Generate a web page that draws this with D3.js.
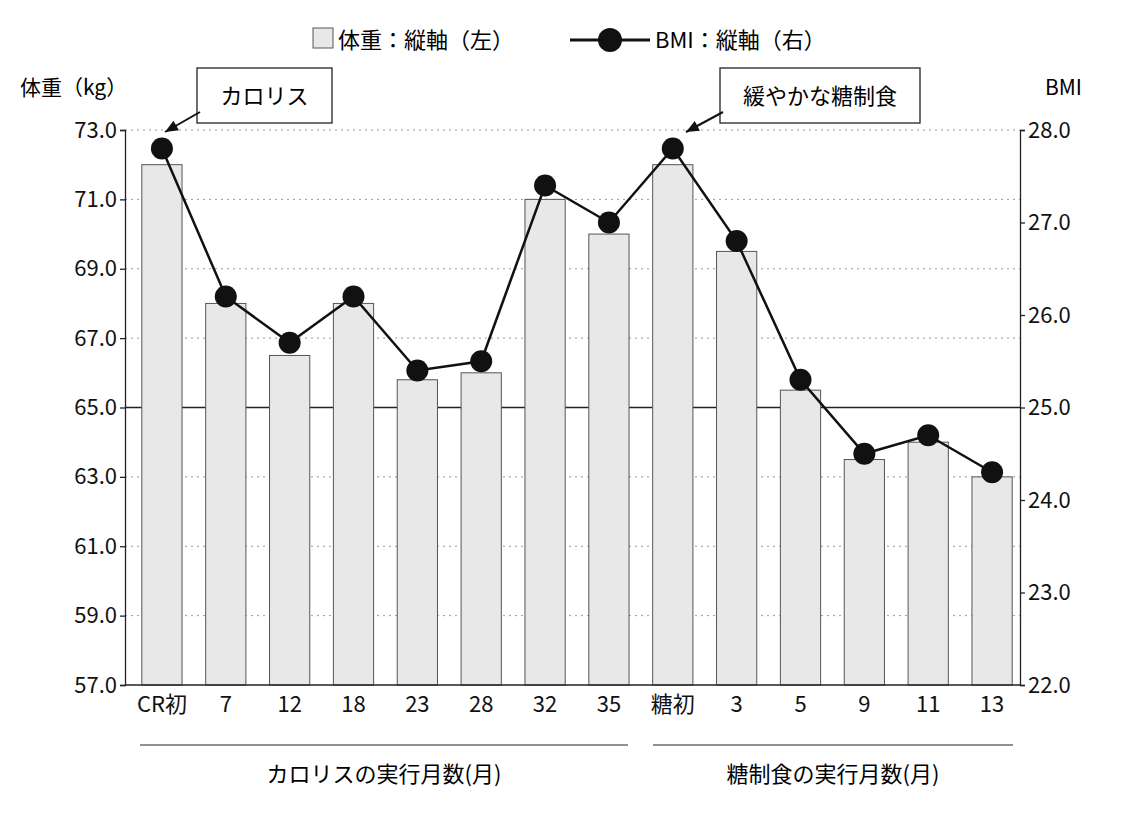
<!DOCTYPE html><html><head><meta charset="utf-8">
<script src="https://cdn.jsdelivr.net/npm/d3@7"></script>
<style>body{margin:0;background:#fff}text{font-family:"Noto Sans CJK JP","Noto Sans",sans-serif}</style></head><body>
<svg id="c" width="1125" height="815"></svg>
<script>
const categories=["CR初","7","12","18","23","28","32","35","糖初","3","5","9","11","13"];
const weight=[72.0,68.0,66.5,68.0,65.8,66.0,71.0,70.0,72.0,69.5,65.5,63.5,64.0,63.0];
const bmi=[27.8,26.2,25.7,26.2,25.4,25.5,27.4,27.0,27.8,26.8,25.3,24.5,24.7,24.3];
const leftTicks=[57,59,61,63,65,67,69,71,73];
const rightTicks=[22,23,24,25,26,27,28];
const svg=d3.select("#c");
const L=125,R=1020,T=130,B=685;
const x=d3.scaleBand().domain(categories).range([130,1024]).paddingInner(0.37).paddingOuter(0.185);
const y=d3.scaleLinear().domain([57,73]).range([B,T]);
const y2=d3.scaleLinear().domain([22,28]).range([B,T]);
leftTicks.forEach(t=>{if(t===57)return;svg.append("line").attr("x1",L).attr("x2",R).attr("y1",y(t)).attr("y2",y(t))
 .attr("stroke",t===65?"#222":"#999").attr("stroke-width",t===65?1.5:1).attr("stroke-dasharray",t===65?null:"2,4");});
svg.selectAll("rect.b").data(weight).enter().append("rect").attr("x",(d,i)=>x(categories[i])).attr("width",x.bandwidth())
 .attr("y",d=>y(d)).attr("height",d=>B-y(d)).attr("fill","#e8e8e8").attr("stroke","#555").attr("stroke-width",1);
const ax=svg.append("g").attr("transform",`translate(${L},0)`).call(d3.axisLeft(y).tickValues(leftTicks).tickFormat(d3.format(".1f")).tickSize(5));
const ax2=svg.append("g").attr("transform",`translate(${R},0)`).call(d3.axisRight(y2).tickValues(rightTicks).tickFormat(d3.format(".1f")).tickSize(5));
const ax3=svg.append("g").attr("transform",`translate(0,${B})`).call(d3.axisBottom(x).tickSize(0));
[ax,ax2,ax3].forEach(a=>{a.selectAll("path,line").attr("stroke","#222").attr("stroke-width",1.3);a.selectAll("text").attr("font-size",22).attr("fill","#111");});
ax3.select(".domain").attr("d",`M${L},0H${R}`);
ax3.selectAll("text").attr("dy","1.1em");
const line=d3.line().x((d,i)=>x(categories[i])+x.bandwidth()/2).y(d=>y2(d));
svg.append("path").attr("d",line(bmi)).attr("fill","none").attr("stroke","#111").attr("stroke-width",2.5);
svg.selectAll("circle.p").data(bmi).enter().append("circle").attr("cx",(d,i)=>x(categories[i])+x.bandwidth()/2).attr("cy",d=>y2(d)).attr("r",11).attr("fill","#111");
svg.append("text").attr("x",20).attr("y",95).attr("font-size",21).text("体重（kg）");
svg.append("text").attr("x",1045).attr("y",95).attr("font-size",21).text("BMI");
svg.append("rect").attr("x",313).attr("y",28).attr("width",20).attr("height",20).attr("fill","#e8e8e8").attr("stroke","#555");
svg.append("text").attr("x",338).attr("y",48).attr("font-size",22).text("体重：縦軸（左）");
svg.append("line").attr("x1",570).attr("x2",650).attr("y1",40).attr("y2",40).attr("stroke","#111").attr("stroke-width",3);
svg.append("circle").attr("cx",610).attr("cy",40).attr("r",12).attr("fill","#111");
svg.append("text").attr("x",655).attr("y",48).attr("font-size",22).text("BMI：縦軸（右）");
function box(x0,y0,w,h,t,ax0,ay0,ax1,ay1){
 svg.append("rect").attr("x",x0).attr("y",y0).attr("width",w).attr("height",h).attr("fill","#fff").attr("stroke","#222").attr("stroke-width",1.3);
 svg.append("text").attr("x",x0+w/2).attr("y",y0+h/2+8).attr("text-anchor","middle").attr("font-size",22).text(t);
 svg.append("line").attr("x1",ax0).attr("y1",ay0).attr("x2",ax1).attr("y2",ay1).attr("stroke","#111").attr("stroke-width",2);
 const a=Math.atan2(ay1-ay0,ax1-ax0),s=14;
 svg.append("path").attr("d",`M${ax1},${ay1}L${ax1-s*Math.cos(a-0.4)},${ay1-s*Math.sin(a-0.4)}L${ax1-s*Math.cos(a+0.4)},${ay1-s*Math.sin(a+0.4)}Z`).attr("fill","#111");
}
box(197,68,135,55,"カロリス",200,112,165,132);
box(720,68,200,55,"緩やかな糖制食",723,112,686,132);
svg.append("line").attr("x1",140).attr("x2",628).attr("y1",745).attr("y2",745).attr("stroke","#222");
svg.append("line").attr("x1",653).attr("x2",1013).attr("y1",745).attr("y2",745).attr("stroke","#222");
svg.append("text").attr("x",384).attr("y",782).attr("text-anchor","middle").attr("font-size",22).text("カロリスの実行月数(月)");
svg.append("text").attr("x",833).attr("y",782).attr("text-anchor","middle").attr("font-size",22).text("糖制食の実行月数(月)");
</script></body></html>
